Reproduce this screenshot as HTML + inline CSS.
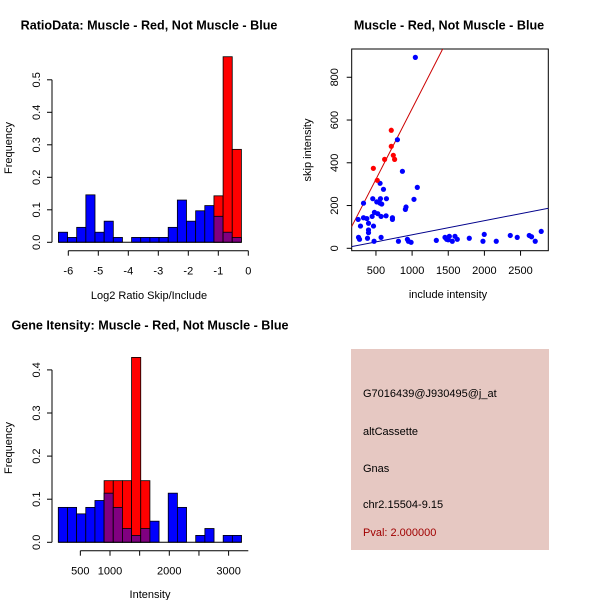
<!DOCTYPE html>
<html><head><meta charset="utf-8"><style>
body{margin:0;background:#fff}
svg{display:block;font-family:"Liberation Sans",sans-serif}
</style></head><body>
<svg id="c" width="600" height="600" viewBox="0 0 600 600" xmlns="http://www.w3.org/2000/svg">
<text x="149" y="29.5" font-size="12.6" font-weight="bold" text-anchor="middle">RatioData: Muscle - Red, Not Muscle - Blue</text>
<text x="449" y="29.5" font-size="12.6" font-weight="bold" text-anchor="middle">Muscle - Red, Not Muscle - Blue</text>
<text x="150" y="329.5" font-size="12.6" font-weight="bold" text-anchor="middle">Gene Itensity: Muscle - Red, Not Muscle - Blue</text>
<text x="149" y="299" font-size="11" text-anchor="middle">Log2 Ratio Skip/Include</text>
<text transform="translate(12,148) rotate(-90)" font-size="11" text-anchor="middle">Frequency</text>
<text x="448" y="298" font-size="11" text-anchor="middle">include intensity</text>
<text transform="translate(311,150) rotate(-90)" font-size="11" text-anchor="middle">skip intensity</text>
<text x="150" y="598" font-size="11" text-anchor="middle">Intensity</text>
<text transform="translate(12,448) rotate(-90)" font-size="11" text-anchor="middle">Frequency</text>
<g>
<rect x="351" y="349" width="198" height="201" fill="#e6c8c2"/>
<text x="363" y="397" font-size="11">G7016439@J930495@j_at</text>
<text x="363" y="435" font-size="11">altCassette</text>
<text x="363" y="472" font-size="11">Gnas</text>
<text x="363" y="508" font-size="11">chr2.15504-9.15</text>
<text x="363" y="536" font-size="11" fill="#a00000">Pval: 2.000000</text>
</g>
</svg>
<script>
// ---- Ratio histogram data ----
const ratioBinStart = -6.33;
const ratioBinWidth = 0.305;
const ratioBlue = [0.031,0.015,0.046,0.146,0.031,0.065,0.015,0,0.015,0.015,0.015,0.015,0.046,0.13,0.065,0.097,0.113,0.08,0.031,0.015];
const ratioRed  = [0,0,0,0,0,0,0,0,0,0,0,0,0,0,0,0,0,0.143,0.571,0.286];
const ratioXTicks = [-6,-5,-4,-3,-2,-1,0];
const ratioYTicks = [0,0.1,0.2,0.3,0.4,0.5];
const ratioYLabels = ["0.0","0.1","0.2","0.3","0.4","0.5"];
// ---- Intensity histogram data ----
const intBinStart = 128;
const intBinWidth = 154.5;
const intBlue = [0.081,0.081,0.066,0.081,0.097,0.114,0.081,0.032,0.016,0.032,0.049,0,0.114,0.081,0,0.016,0.032,0,0.016,0.016];
const intRed  = [0,0,0,0,0,0.143,0.143,0.143,0.429,0.143,0,0,0,0,0,0,0,0,0,0];
const intXTicks = [500,1000,1500,2000,2500,3000];
const intXLabels = ["500","1000","","2000","","3000"];
const intYTicks = [0,0.1,0.2,0.3,0.4];
const intYLabels = ["0.0","0.1","0.2","0.3","0.4"];
// ---- Scatter data ----
const redX = [464,518,620,712,712,740,758];
const redY = [374,318,416,552,477,435,416];
const blueX = [1045,797,866,1072,1026,916,907,557,604,645,562,456,511,557,580,328,479,525,571,640,447,328,374,728,728,254,397,286,466,397,397,259,273,383,571,474,811,935,949,986,1335,1455,1478,1515,1500,1556,1593,1625,1791,1980,1998,2164,2358,2454,2620,2652,2703,2786];
const blueY = [893,508,360,285,229,193,182,304,276,232,232,232,217,211,207,211,168,162,149,152,149,143,139,143,135,135,117,104,104,86,73,51,42,47,51,33,33,42,33,28,37,51,42,56,40,33,56,42,47,33,65,33,60,51,60,54,33,79];
const redSlope = 0.66, redIntercept = -7;
const blueSlope = 0.066, blueIntercept = -3;
const scXTicks = [500,1000,1500,2000,2500];
const scYTicks = [0,200,400,600,800];

const svg = document.getElementById('c');
const NS = 'http://www.w3.org/2000/svg';
function mk(tag, attrs, parent){
  const e = document.createElementNS(NS, tag);
  for (const k in attrs) e.setAttribute(k, attrs[k]);
  (parent||svg).appendChild(e);
  return e;
}

function histogram(prefix, xs, ys, binStart, binW, blue, red, xTicks, xLabels, yTicks, yLabels, xAxisStart, xAxisEnd, axisY){
  const g = mk('g', {});
  
  
  for (let i = 0; i < blue.length; i++){
    const x0 = xs(binStart + i*binW), x1 = xs(binStart + (i+1)*binW);
    const r = red[i], b = blue[i];
    if (r > 0){
      const rr = mk('rect', {x:x0, y:ys(r), width:x1-x0, height:ys(0)-ys(r), fill:'#ff0000', stroke:'#000', 'stroke-width':0.8}, g);
      
      
    }
    if (b > 0){
      const col = r > 0 ? '#800080' : '#0000ff';
      const br = mk('rect', {x:x0, y:ys(b), width:x1-x0, height:ys(0)-ys(b), fill:col, stroke:'#000', 'stroke-width':0.8}, g);
      
      
    }
  }
  mk('line', {x1:xs(binStart), x2:xs(binStart+blue.length*binW), y1:ys(0), y2:ys(0), stroke:'#000'}, g);
  const ya = mk('g', {}, g);
  
  
  mk('line', {x1:52, x2:52, y1:ys(yTicks[0]), y2:ys(yTicks[yTicks.length-1]), stroke:'#000'}, ya);
  yTicks.forEach((t,i)=>{
    mk('line', {x1:47, x2:52, y1:ys(t), y2:ys(t), stroke:'#000'}, ya);
    const tx = mk('text', {transform:`translate(40,${ys(t)}) rotate(-90)`, 'font-size':11, 'text-anchor':'middle'}, ya);
    tx.textContent = yLabels[i];
    
    
  });
  const xa = mk('g', {}, g);
  
  
  mk('line', {x1:xAxisStart, x2:xAxisEnd, y1:axisY, y2:axisY, stroke:'#000'}, xa);
  xTicks.forEach((t,i)=>{
    mk('line', {x1:xs(t), x2:xs(t), y1:axisY, y2:axisY+5, stroke:'#000'}, xa);
    const tx = mk('text', {x:xs(t), y:axisY+24, 'font-size':11, 'text-anchor':'middle'}, xa);
    tx.textContent = xLabels[i];
    
    
  });
}

const rxs = v => 248.3 + v*30;
const rys = v => 242.3 - v*325;
histogram('ratio', rxs, rys, ratioBinStart, ratioBinWidth, ratioBlue, ratioRed, ratioXTicks, ratioXTicks.map(String), ratioYTicks, ratioYLabels, rxs(-6), rxs(0), 250.7);

const ixs = v => 50.7 + v*0.0593;
const iys = v => 542.3 - v*431;
histogram('intensity', ixs, iys, intBinStart, intBinWidth, intBlue, intRed, intXTicks, intXLabels, intYTicks, intYLabels, ixs(500), 248.3, 550.7);

const sxs = v => 339.8 + v*0.0723;
const sys = v => 248.3 - v*0.2138;
const sg = mk('g', {});


const defs = mk('defs', {}, sg);
const cp = mk('clipPath', {id:'clipS'}, defs);
mk('rect', {x:351.7, y:49, width:196.6, height:201.7}, cp);
const frame = mk('rect', {x:351.7, y:49, width:196.6, height:201.7, fill:'none', stroke:'#000'}, sg);


const lg = mk('g', {'clip-path':'url(#clipS)'}, sg);
const xa0 = 0, xa1 = 3200;
const rl = mk('line', {x1:sxs(xa0), y1:sys(redIntercept+redSlope*xa0), x2:sxs(xa1), y2:sys(redIntercept+redSlope*xa1), stroke:'#cc0000', 'stroke-width':1}, lg);


const bl = mk('line', {x1:sxs(xa0), y1:sys(blueIntercept+blueSlope*xa0), x2:sxs(xa1), y2:sys(blueIntercept+blueSlope*xa1), stroke:'#00008b', 'stroke-width':1}, lg);


blueX.forEach((x,i)=>{
  const c = mk('circle', {cx:sxs(x), cy:sys(blueY[i]), r:2.6, fill:'#0000ff'}, sg);
  
  
});
redX.forEach((x,i)=>{
  const c = mk('circle', {cx:sxs(x), cy:sys(redY[i]), r:2.6, fill:'#ff0000'}, sg);
  
  
});
scXTicks.forEach(t=>{
  mk('line', {x1:sxs(t), x2:sxs(t), y1:250.7, y2:255.7, stroke:'#000'}, sg);
  const tx = mk('text', {x:sxs(t), y:274, 'font-size':11, 'text-anchor':'middle'}, sg);
  tx.textContent = String(t);
  
  
});
scYTicks.forEach(t=>{
  mk('line', {x1:346.7, x2:351.7, y1:sys(t), y2:sys(t), stroke:'#000'}, sg);
  const tx = mk('text', {transform:`translate(338,${sys(t)}) rotate(-90)`, 'font-size':11, 'text-anchor':'middle'}, sg);
  tx.textContent = String(t);
  
  
});
</script>
</body></html>
